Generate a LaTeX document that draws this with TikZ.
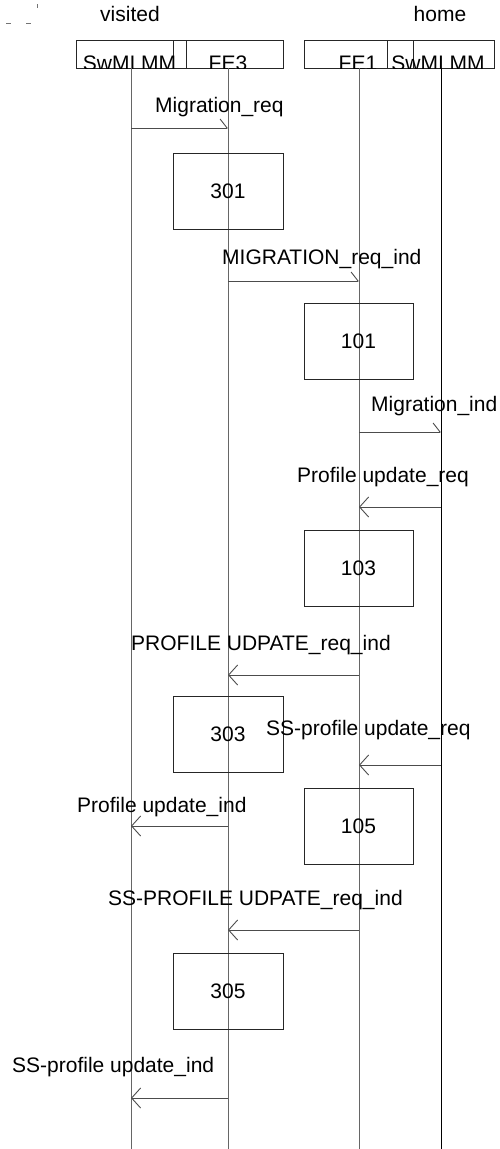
\documentclass[tikz,border=0pt]{standalone}
\usepackage{fontspec}
\setmainfont{Liberation Sans}
\usetikzlibrary{arrows.meta}
\begin{document}
\begin{tikzpicture}[x=1pt,y=-1pt,
  txt/.style={font=\fontsize{21}{25}\selectfont, inner sep=0pt},
  lbl/.style={txt, anchor=base west},
  hdr/.style={txt, anchor=base},
  hbox/.style={draw=black!85, line width=0.9pt, minimum height=28pt, inner sep=0pt},
  act/.style={draw=black!85, line width=0.9pt, minimum height=76pt, inner sep=0pt, font=\fontsize{21}{25}\selectfont},
  life/.style={draw=black!60, line width=1pt},
  lifeb/.style={draw=black, line width=1pt},
  msg/.style={draw=black!70, line width=1pt},
  lhead/.style={-{Straight Barb[length=9pt,width=20pt,line width=0.9pt]}},
  rhead/.style={-{Straight Barb[left,length=7pt,width=18pt,line width=0.9pt]}}]
\useasboundingbox (0,0) rectangle (499,1149);

% stray marks at top left
\draw[black!55, line width=1pt] (6,23) -- (11,23) (26,23) -- (31,23) (37,4) -- (37,8);

% group titles
\node[hdr] (tv) at (130,21) {visited};
\node[hdr] (th) at (440,21) {home};

% header boxes
\node[hbox, minimum width=110pt] (hb1) at (131,54) {};
\node[hbox, minimum width=110pt] (hb2) at (228,54) {};
\node[hbox, minimum width=109pt] (hb3) at (358.5,54) {};
\node[hbox, minimum width=107pt] (hb4) at (440.5,54) {};
\begin{scope}
  \clip (0,0) rectangle (499,68);
  \node[hdr] (h1) at (129.5,70) {SwMI MM};
  \node[hdr] (h2) at (228,70) {FE3};
  \node[hdr] (h3) at (358,70) {FE1};
  \node[hdr] (h4) at (438,70) {SwMI MM};
\end{scope}

% lifelines
\coordinate (L1) at (131,68);  \coordinate (E1) at (131,1149);
\coordinate (L2) at (228,68);  \coordinate (E2) at (228,1149);
\coordinate (L3) at (359,68);  \coordinate (E3) at (359,1149);
\coordinate (L4) at (441,68);  \coordinate (E4) at (441,1149);
\draw[life] (L1) -- (E1);
\draw[life] (L2) -- (E2);
\draw[life] (L3) -- (E3);
\draw[lifeb] (L4) -- (E4);

% action boxes
\node[act, minimum width=110pt] (b301) at (228,191) {301};
\node[act, minimum width=109pt] (b101) at (358.5,341.5) {101};
\node[act, minimum width=109pt] (b103) at (358.5,568.5) {103};
\node[act, minimum width=110pt] (b303) at (228,734) {303};
\node[act, minimum width=109pt] (b105) at (358.5,826) {105};
\node[act, minimum width=110pt] (b305) at (228,991.5) {305};

% messages
\coordinate (m1a) at (131,128); \coordinate (m1b) at (228,128);
\draw[msg, rhead] (m1a) -- (m1b);
\node[lbl] (t1) at (155,112) {Migration\_req};

\coordinate (m2a) at (228,281); \coordinate (m2b) at (359,281);
\draw[msg, rhead] (m2a) -- (m2b);
\node[lbl] (t2) at (222,264) {MIGRATION\_req\_ind};

\coordinate (m3a) at (359,432); \coordinate (m3b) at (441,432);
\draw[msg, rhead] (m3a) -- (m3b);
\node[lbl] (t3) at (371,411) {Migration\_ind};

\coordinate (m4a) at (441,507); \coordinate (m4b) at (359,507);
\draw[msg, lhead] (m4a) -- (m4b);
\node[lbl] (t4) at (297,482) {Profile update\_req};

\coordinate (m5a) at (359,675); \coordinate (m5b) at (228,675);
\draw[msg, lhead] (m5a) -- (m5b);
\node[lbl] (t5) at (131,650) {PROFILE UDPATE\_req\_ind};

\coordinate (m6a) at (441,765); \coordinate (m6b) at (359,765);
\draw[msg, lhead] (m6a) -- (m6b);
\node[lbl] (t6) at (266,735) {SS-profile update\_req};

\coordinate (m7a) at (228,826); \coordinate (m7b) at (131,826);
\draw[msg, lhead] (m7a) -- (m7b);
\node[lbl] (t7) at (77,812) {Profile update\_ind};

\coordinate (m8a) at (359,930); \coordinate (m8b) at (228,930);
\draw[msg, lhead] (m8a) -- (m8b);
\node[lbl] (t8) at (108,905) {SS-PROFILE UDPATE\_req\_ind};

\coordinate (m9a) at (228,1098); \coordinate (m9b) at (131,1098);
\draw[msg, lhead] (m9a) -- (m9b);
\node[lbl] (t9) at (12,1072) {SS-profile update\_ind};
\end{tikzpicture}
\end{document}
